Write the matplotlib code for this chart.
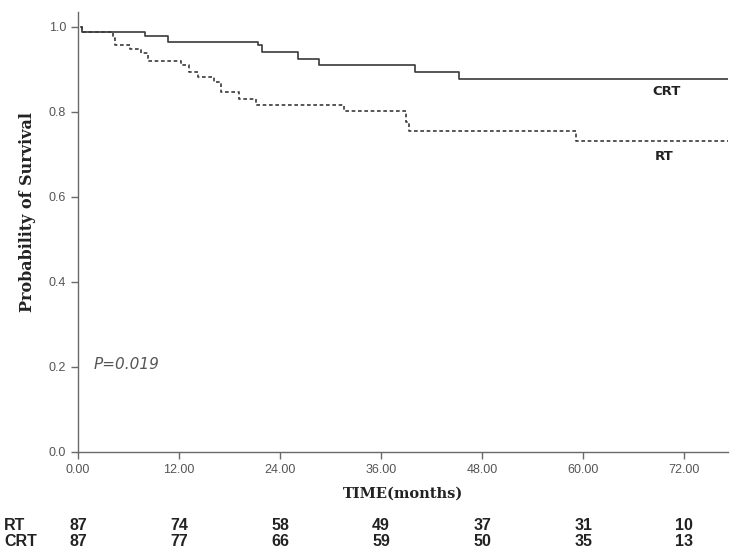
import matplotlib
matplotlib.use("Agg")
import matplotlib.pyplot as plt
from matplotlib.ticker import FormatStrFormatter

# Kaplan-Meier steps (months, survival)
crt_time = [0.4, 0.5, 7.95, 10.7, 21.4, 21.8, 26.1, 28.6, 40.0, 45.2, 77.2]
crt_surv = [1.0, 0.989, 0.979, 0.965, 0.958, 0.940, 0.924, 0.911, 0.894, 0.878, 0.878]

rt_time = [0.4, 0.5, 4.1, 4.4, 6.2, 7.5, 8.3, 12.2, 13.2, 14.2, 16.2, 17.0,
           19.1, 21.1, 31.6, 38.9, 39.3, 59.1, 77.2]
rt_surv = [1.0, 0.989, 0.975, 0.958, 0.947, 0.938, 0.920, 0.911, 0.895, 0.883,
           0.871, 0.846, 0.831, 0.816, 0.802, 0.777, 0.755, 0.732, 0.732]

risk_times = [0, 12, 24, 36, 48, 60, 72]
rt_at_risk = [87, 74, 58, 49, 37, 31, 10]
crt_at_risk = [87, 77, 66, 59, 50, 35, 13]

line_col = "#3a3a3a"
axis_col = "#6a6a6a"
tick_font = ["Liberation Sans", "DejaVu Sans"]

fig = plt.figure(figsize=(7.33, 5.55), dpi=100)
ax = fig.add_axes([78 / 733, 103 / 555, 650 / 733, 440 / 555])

ax.step(crt_time, crt_surv, where="post", color=line_col, lw=1.2)
ax.step(rt_time, rt_surv, where="post", color=line_col, lw=1.2,
        linestyle=(0, (2.2, 1.6)))

ax.set_xlim(0, 77.2)
ax.set_ylim(0, 1.035)
ax.set_xticks(risk_times)
ax.set_yticks([0, 0.2, 0.4, 0.6, 0.8, 1.0])
ax.xaxis.set_major_formatter(FormatStrFormatter("%.2f"))
ax.yaxis.set_major_formatter(FormatStrFormatter("%.1f"))

for s in ["top", "right"]:
    ax.spines[s].set_visible(False)
for s in ["left", "bottom"]:
    ax.spines[s].set_color(axis_col)
    ax.spines[s].set_linewidth(1.0)
ax.tick_params(colors=axis_col, length=5, width=1.0, labelcolor="#555555")
for lab in ax.get_xticklabels() + ax.get_yticklabels():
    lab.set_family(tick_font)
    lab.set_fontsize(9)

ax.set_ylabel("Probability of Survival", family="DejaVu Serif",
              fontweight="bold", fontsize=11.5, color="#222222")
ax.yaxis.set_label_coords(-0.064, 0.545)
ax.set_xlabel("TIME(months)", family="DejaVu Serif", fontweight="bold",
              fontsize=10.5, color="#222222", labelpad=8)

ax.text(69.9, 0.847, "CRT", family="DejaVu Sans", fontweight="bold",
        fontsize=9.5, color="#222222", ha="center", va="center")
ax.text(69.6, 0.694, "RT", family="DejaVu Sans", fontweight="bold",
        fontsize=9.5, color="#222222", ha="center", va="center")
ax.text(1.9, 0.205, "P=0.019", family="DejaVu Sans", style="italic",
        fontsize=11, color="#555555", ha="left", va="center")

# number-at-risk table under the axis
for name, counts, yfig in [("RT", rt_at_risk, 30 / 555), ("CRT", crt_at_risk, 13 / 555)]:
    fig.text(4 / 733, yfig, name, family=tick_font, fontweight="bold",
             fontsize=11.5, color="#222222", ha="left", va="center")
    for t, n in zip(risk_times, counts):
        xd = ax.transData.transform((t, 0))[0]
        xf = fig.transFigure.inverted().transform((xd, 0))[0]
        fig.text(xf, yfig, str(n), family=tick_font, fontweight="bold",
                 fontsize=11.5, color="#222222", ha="center", va="center")

fig.savefig("out.png", dpi=100)
